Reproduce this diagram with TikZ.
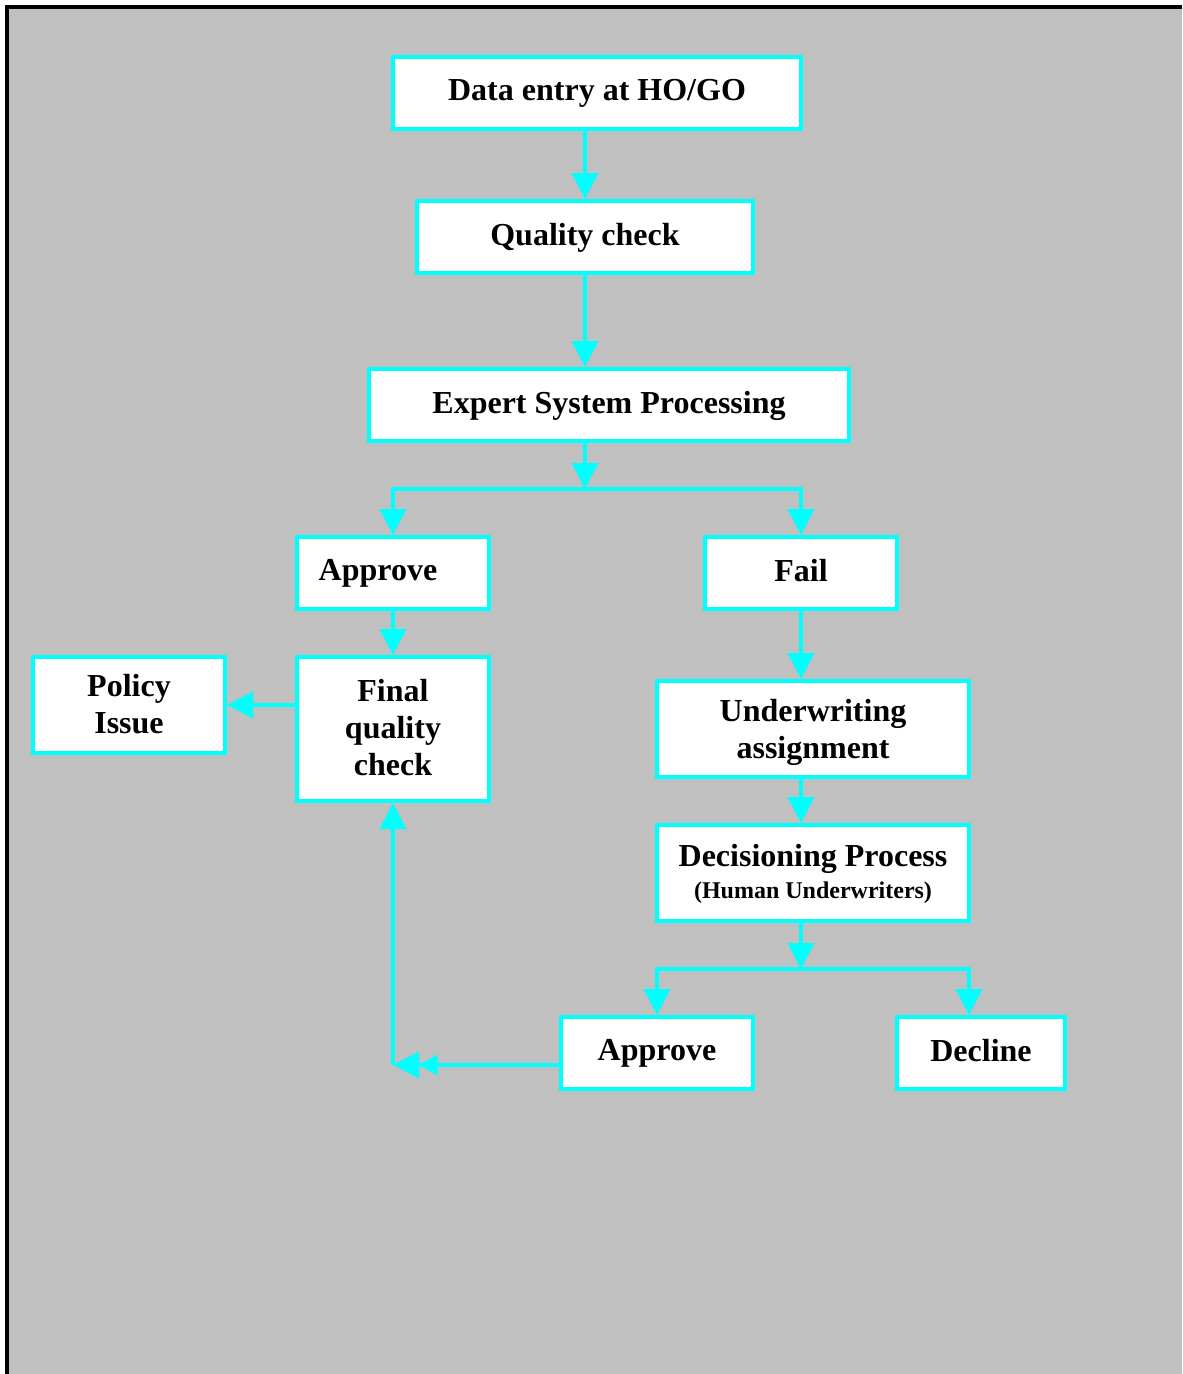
\documentclass[tikz,border=0pt]{standalone}
\usepackage{fontspec}
\setmainfont{Liberation Serif}
\usetikzlibrary{arrows.meta,calc}
\definecolor{bggray}{HTML}{C0C0C0}
\definecolor{aqua}{HTML}{00FFFF}
\tikzset{
  box/.style 2 args={draw=aqua, fill=white, line width=3pt, inner sep=0pt,
    minimum width=#1*0.75pt, minimum height=#2*0.75pt, align=center,
    text depth=0.4em,
    font=\fontsize{24}{27.75}\selectfont\bfseries},
  arr/.style={draw=aqua, line width=3pt, -{Triangle[length=19.5pt,width=19.5pt]}},
  dblarr/.style={draw=aqua, line width=3pt, -{Triangle[length=14pt,width=15pt]Triangle[length=19.5pt,width=19.5pt]}},
}
\begin{document}
\begin{tikzpicture}[x=0.75pt,y=-0.75pt]
\useasboundingbox (0,0) rectangle (1182,1374);
\fill[white] (0,0) rectangle (1182,1374);
\fill[bggray] (5,5) rectangle (1182,1374);
\draw[black, line width=3pt] (6.7,1374) -- (6.7,7) -- (1182,7);

\node[box={408}{72}] (data) at (597,93) {Data entry at HO/GO};
\node[box={336}{72}] (qc) at (585,237) {Quality check};
\node[box={480}{72}] (esp) at (609,405) {Expert System Processing};
\node[box={192}{72}] (app1) at (393,573) {\hspace*{-22.5pt}Approve};
\node[box={192}{72}] (fail) at (801,573) {Fail};
\node[box={192}{96}, text depth=0.1em] (policy) at (129,705) {Policy\\Issue};
\node[box={192}{144}, text depth=0.28em] (fqc) at (393,729) {Final\\quality\\check};
\node[box={312}{96}, text depth=0pt] (uwa) at (813,729) {Underwriting\\assignment};
\node[box={312}{96}, text depth=0.25em] (dec) at (813,873) {Decisioning Process\\[-4pt]{\fontsize{18}{20}\selectfont(Human Underwriters)}};
\node[box={192}{72}] (app2) at (657,1053) {Approve};
\node[box={168}{72}] (decl) at (981,1053) {Decline};

\coordinate (br1) at (585,489);
\coordinate (br2) at (801,969);
\coordinate (br2r) at (969,969);
\coordinate (loop) at (393,1065);

\draw[arr] (data.south -| qc.south) -- (qc.north);
\draw[arr] (qc.south) -- (qc.south |- esp.north);
\draw[arr] (esp.south -| br1) -- (br1);
\draw[arr] (br1) -| (app1.north);
\draw[arr] (br1) -| (fail.north);
\draw[arr] (app1.south) -- (fqc.north);
\draw[arr] (fqc.west |- policy.east) -- (policy.east);
\draw[arr] (fail.south) -- (fail.south |- uwa.north);
\draw[arr] (uwa.south -| br2) -- (br2 |- dec.north);
\draw[arr] (dec.south -| br2) -- (br2);
\draw[arr] (br2) -| (app2.north);
\draw[arr] (br2) -- (br2r) -- (br2r |- decl.north);
\draw[dblarr] (loop -| app2.west) -- (loop);
\draw[arr] (loop) -- (fqc.south);
\end{tikzpicture}
\end{document}
